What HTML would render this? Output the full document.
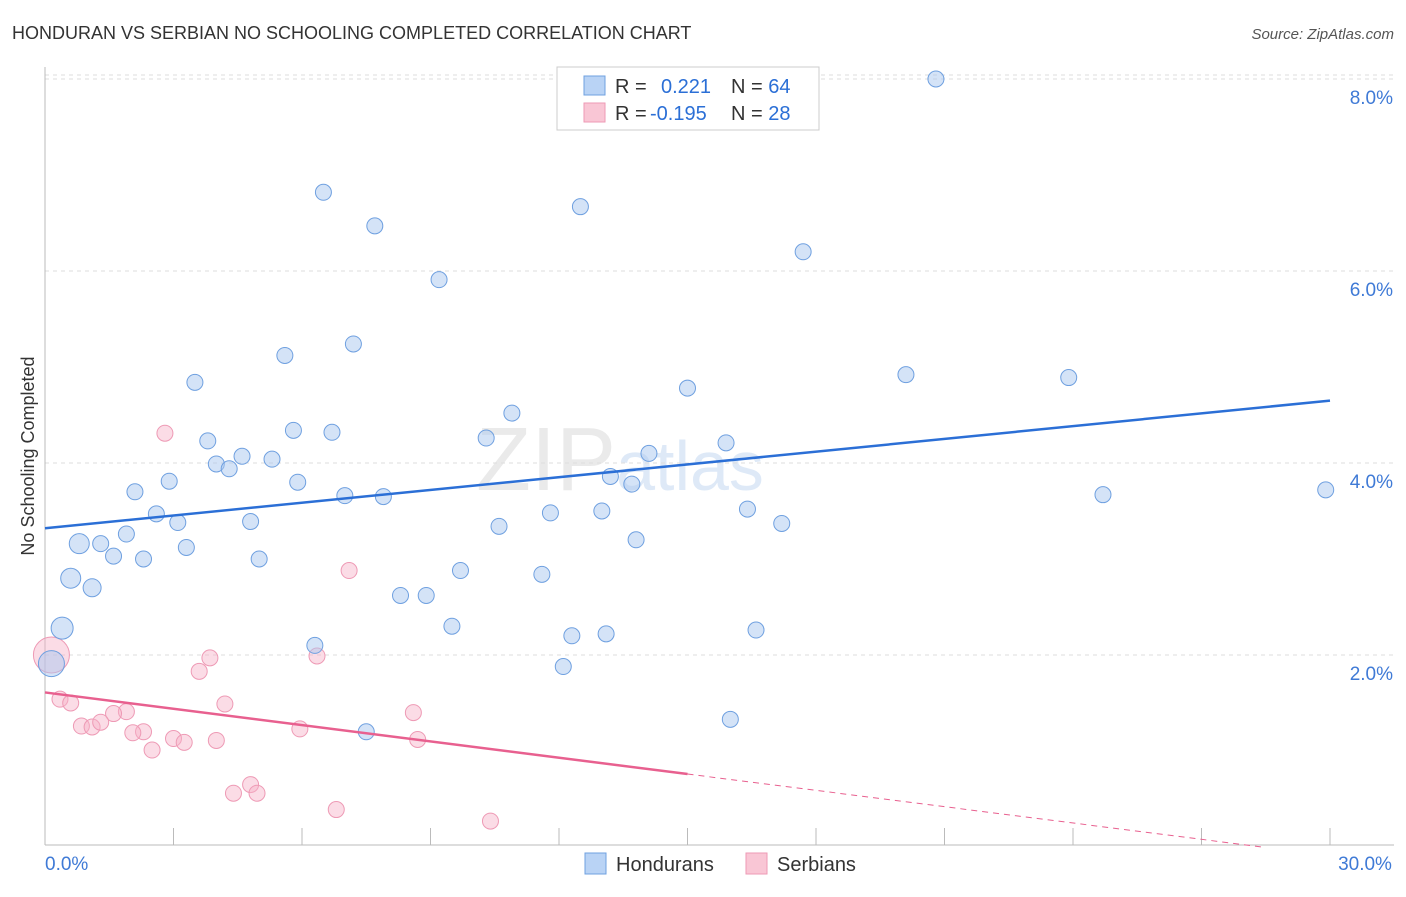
<!DOCTYPE html>
<html><head><meta charset="utf-8"><style>
body{margin:0;background:#fff;font-family:"Liberation Sans",sans-serif}
svg text{font-family:"Liberation Sans",sans-serif}
</style></head><body>
<svg id="chart" width="1406" height="892" xmlns="http://www.w3.org/2000/svg">
<text x="12" y="39" font-size="18" fill="#333">HONDURAN VS SERBIAN NO SCHOOLING COMPLETED CORRELATION CHART</text>
<text x="1394" y="39" font-size="15" fill="#555" font-style="italic" text-anchor="end">Source: ZipAtlas.com</text>
<text x="34" y="456" font-size="18" fill="#333" text-anchor="middle" transform="rotate(-90 34 456)">No Schooling Completed</text>
<text x="620" y="490" font-size="90" fill="#ddd" font-family="Liberation Serif" opacity="0.6" text-anchor="middle">ZIP<tspan fill="#c9dcf3" font-family="Liberation Sans" font-size="70">atlas</tspan></text>
<g id="grid"></g><g id="axes"></g><g id="marks"></g>
<g>
<rect x="557" y="67" width="262" height="63" fill="#fff" stroke="#ccc"/>
<rect x="584" y="76" width="21" height="19" fill="#b9d3f5" stroke="#6fa0e0"/>
<rect x="584" y="103" width="21" height="19" fill="#f9c6d5" stroke="#ee9ab5"/>
<text x="615" y="93" font-size="20" fill="#333">R = <tspan fill="#2b6fd6" x="661">0.221</tspan><tspan fill="#333" x="731">N = </tspan><tspan fill="#2b6fd6">64</tspan></text>
<text x="615" y="120" font-size="20" fill="#333">R = <tspan fill="#2b6fd6" x="650">-0.195</tspan><tspan fill="#333" x="731">N = </tspan><tspan fill="#2b6fd6">28</tspan></text>
</g>
<g>
<rect x="585" y="853" width="21" height="21" fill="#b9d3f5" stroke="#6fa0e0"/>
<text x="616" y="871" font-size="20" fill="#333">Hondurans</text>
<rect x="746" y="853" width="21" height="21" fill="#f9c6d5" stroke="#ee9ab5"/>
<text x="777" y="871" font-size="20" fill="#333">Serbians</text>
</g>
</svg>
<script>
const yTicks=[2,4,6,8];
const yTickLabels=["2.0%","4.0%","6.0%","8.0%"];
const xTickLabels=["0.0%","30.0%"];
const blueX=[20.8,6.5,7.7,12.5,17.7,9.2,5.6,7.2,3.5,15.0,20.1,23.9,10.9,3.8,5.8,6.7,10.3,15.9,4.0,4.3,4.6,5.3,14.1,13.2,13.7,2.1,2.9,5.9,7.0,7.9,24.7,29.9,2.6,3.1,4.8,10.6,11.8,13.0,16.4,17.2,1.9,0.8,1.3,1.6,2.3,3.3,5.0,13.8,0.6,1.1,9.7,11.6,8.3,8.9,9.5,0.4,6.3,12.3,13.1,16.6,0.15,12.1,16.0,7.5];
const blueY=[8.0,6.82,6.47,6.67,6.2,5.91,5.12,5.24,4.84,4.78,4.92,4.89,4.52,4.23,4.34,4.32,4.26,4.21,3.99,3.94,4.07,4.04,4.1,3.86,3.78,3.7,3.81,3.8,3.66,3.65,3.67,3.72,3.47,3.38,3.39,3.34,3.48,3.5,3.52,3.37,3.26,3.16,3.16,3.03,3.0,3.12,3.0,3.2,2.8,2.7,2.88,2.84,2.62,2.62,2.3,2.28,2.1,2.2,2.22,2.26,1.91,1.88,1.33,1.2];
const blueR=[8,8,8,8,8,8,8,8,8,8,8,8,8,8,8,8,8,8,8,8,8,8,8,8,8,8,8,8,8,8,8,8,8,8,8,8,8,8,8,8,8,10,8,8,8,8,8,8,10,9,8,8,8,8,8,11,8,8,8,8,13,8,8,8];
const pinkX=[2.8,7.1,3.85,3.6,6.35,0.15,0.35,0.6,4.2,1.9,1.6,0.85,1.1,1.3,2.3,2.05,3.0,3.25,4.0,2.5,5.95,8.6,8.7,4.8,4.4,4.95,6.8,10.4];
const pinkY=[4.31,2.88,1.97,1.83,1.99,2.0,1.54,1.5,1.49,1.41,1.39,1.26,1.25,1.3,1.2,1.19,1.13,1.09,1.11,1.01,1.23,1.4,1.12,0.65,0.56,0.56,0.39,0.27];
const pinkR=[8,8,8,8,8,18,8,8,8,8,8,8,8,8,8,8,8,8,8,8,8,8,8,8,8,8,8,8];
const blueTrend=[3.32,4.65];
const pinkTrend=[1.61,0.76];
const NS="http://www.w3.org/2000/svg";
const X=v=>45+v*(1285/30), Y=v=>847-v*96;
function mk(t,a,p){const e=document.createElementNS(NS,t);for(const k in a)e.setAttribute(k,a[k]);p.appendChild(e);return e;}
const grid=document.getElementById('grid'),axes=document.getElementById('axes'),marks=document.getElementById('marks');
yTicks.forEach((v,i)=>{
 const l=mk('line',{x1:45,x2:1394,y1:Y(v),y2:Y(v),stroke:'#ddd','stroke-dasharray':'4,4'},grid);
 
 
 const t=mk('text',{x:1393,y:Y(v)+25,'font-size':19,fill:'#3f7ad6','text-anchor':'end'},axes);
 t.textContent=yTickLabels[i];
 
 
});
mk('line',{x1:45,x2:1394,y1:75,y2:75,stroke:'#ddd','stroke-dasharray':'4,4'},grid);
mk('line',{x1:45,x2:45,y1:67,y2:845,stroke:'#bbb'},axes);
mk('line',{x1:45,x2:1394,y1:845,y2:845,stroke:'#bbb'},axes);
for(let i=0;i<=10;i++){mk('line',{x1:X(i*3),x2:X(i*3),y1:828,y2:845,stroke:'#bbb'},axes);}
[[0,'start',45],[30,'middle',1365]].forEach((d,i)=>{const t=mk('text',{x:d[2],y:870,'font-size':19,fill:'#3f7ad6','text-anchor':d[1]},axes);t.textContent=xTickLabels[i];
 
 });
pinkX.forEach((v,i)=>{const c=mk('circle',{cx:X(v),cy:Y(pinkY[i]),r:pinkR[i],fill:'rgba(247,178,200,0.45)',stroke:'#ee9ab5','stroke-width':1},marks);
 
 });
blueX.forEach((v,i)=>{const c=mk('circle',{cx:X(v),cy:Y(blueY[i]),r:blueR[i],fill:'rgba(169,200,240,0.5)',stroke:'#6fa0e0','stroke-width':1},marks);
 
 });
const bl=mk('line',{x1:X(0),y1:Y(blueTrend[0]),x2:X(30),y2:Y(blueTrend[1]),stroke:'#2b6fd6','stroke-width':2.5},marks);


const slope=(pinkTrend[1]-pinkTrend[0])/15;
const pl=mk('line',{x1:X(0),y1:Y(pinkTrend[0]),x2:X(15),y2:Y(pinkTrend[1]),stroke:'#e8608f','stroke-width':2.5},marks);


const xEnd=-pinkTrend[0]/slope;
const pd=mk('line',{x1:X(15),y1:Y(pinkTrend[1]),x2:X(xEnd),y2:Y(0),stroke:'#e8608f','stroke-width':1,'stroke-dasharray':'6,5'},marks);


</script>
</body></html>
